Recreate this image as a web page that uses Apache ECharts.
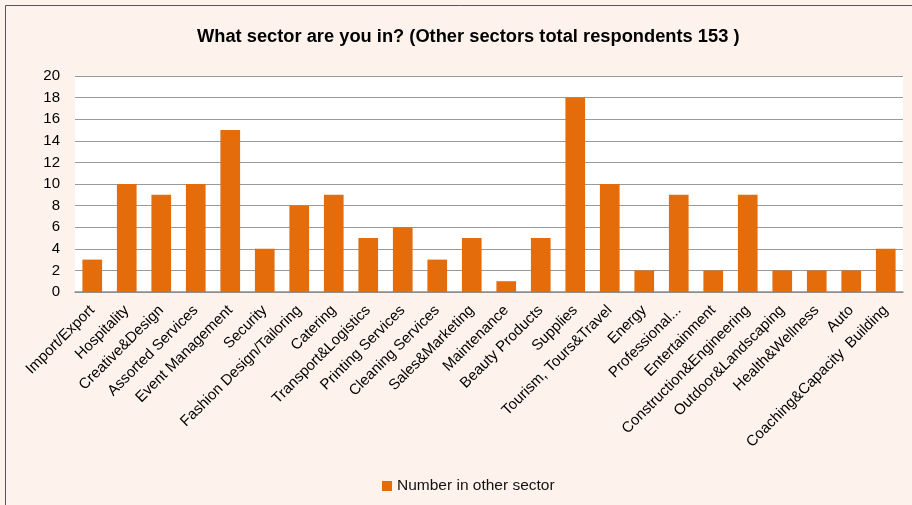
<!DOCTYPE html>
<html>
<head>
<meta charset="utf-8">
<script src="https://cdn.jsdelivr.net/npm/echarts@6/dist/echarts.min.js"></script>
<style>
  html, body { margin: 0; padding: 0; background: #fdf3ec; }
  #chart { width: 912px; height: 505px; }
</style>
</head>
<body>
<div id="chart"></div>
<script>
// Sectors and respondent counts
const sectors = [
  'Import/Export', 'Hospitality', 'Creative&Design', 'Assorted Services',
  'Event Management', 'Security', 'Fashion Design/Tailoring', 'Catering',
  'Transport&Logistics', 'Printing Services', 'Cleaning Services', 'Sales&Marketing',
  'Maintenance', 'Beauty Products', 'Supplies', 'Tourism, Tours&Travel',
  'Energy', 'Professional...', 'Entertainment', 'Construction&Engineering',
  'Outdoor&Landscaping', 'Health&Wellness', 'Auto', 'Coaching&Capacity  Building'
];
const counts = [3, 10, 9, 10, 15, 4, 8, 9, 5, 6, 3, 5, 1, 5, 18, 10, 2, 9, 2, 9, 2, 2, 2, 4];
const yTicks = { min: 0, max: 20, interval: 2 };
const seriesName = 'Number in other sector';
const titleText = 'What sector are you in? (Other sectors total respondents 153 )';

const chart = echarts.init(document.getElementById('chart'));
chart.setOption({
  backgroundColor: '#fdf3ec',
  animation: false,
  textStyle: { fontFamily: 'Liberation Sans, Arial, sans-serif' },
  title: {
    text: titleText,
    left: 192,
    top: 23,
    textStyle: { fontSize: 18.3, fontWeight: 'bold', color: '#000', fontFamily: 'Liberation Sans, Arial, sans-serif' }
  },
  graphic: [{
    type: 'rect',
    shape: { x: 5.5, y: 5.5, width: 1000, height: 1000 },
    style: { fill: 'none', stroke: '#555', lineWidth: 1 },
    silent: true
  }],
  legend: {
    bottom: 6,
    left: 377,
    itemWidth: 10,
    itemHeight: 10,
    itemGap: 4,
    icon: 'rect',
    textStyle: { fontSize: 15.5, color: '#111' },
    data: [seriesName]
  },
  grid: {
    left: 75,
    right: 9,
    top: 76,
    bottom: 213,
    show: true,
    backgroundColor: '#ffffff',
    borderWidth: 0,
    containLabel: false
  },
  xAxis: {
    type: 'category',
    data: sectors,
    axisLine: { show: true, lineStyle: { color: '#8c8c8c', width: 1.5 } },
    axisTick: { show: false },
    axisLabel: {
      interval: 0,
      rotate: 45,
      fontSize: 15,
      color: '#000',
      margin: 16
    }
  },
  yAxis: {
    type: 'value',
    min: yTicks.min,
    max: yTicks.max,
    interval: yTicks.interval,
    axisLine: { show: false },
    axisTick: { show: false },
    axisLabel: { fontSize: 15, color: '#000', margin: 15 },
    splitLine: { lineStyle: { color: '#9a9a9a', width: 1 } }
  },
  series: [{
    name: seriesName,
    type: 'bar',
    data: counts,
    barWidth: '57%',
    itemStyle: { color: '#e46c0a' }
  }]
});
</script>
</body>
</html>
